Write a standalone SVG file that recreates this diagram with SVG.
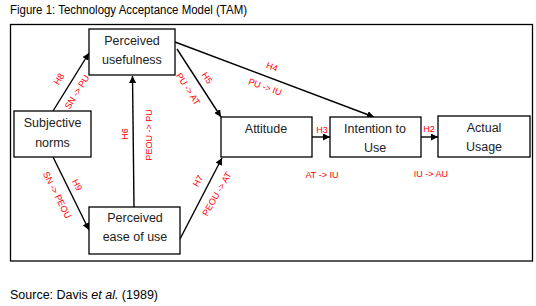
<svg xmlns="http://www.w3.org/2000/svg" width="536" height="306" viewBox="0 0 536 306">
<defs>
<marker id="ah" viewBox="0 0 10 10" refX="10" refY="5" markerWidth="7" markerHeight="7" markerUnits="userSpaceOnUse" orient="auto">
<path d="M0,0 L10,5 L0,10 z" fill="#000"/>
</marker>
</defs>
<style>
.box{fill:#fff;stroke:#000;stroke-width:1.3}
.nt{font-family:"Liberation Sans",Arial,sans-serif;font-size:12.5px;fill:#222;text-anchor:middle}
.cn{stroke:#000;stroke-width:1.4;fill:none;marker-end:url(#ah)}
.lb{font-family:"Liberation Sans",Arial,sans-serif;font-size:9px;fill:#ff0000;text-anchor:middle}
.cap{font-family:"Liberation Sans",Arial,sans-serif;font-size:12.5px;fill:#000}
</style>
<rect width="536" height="306" fill="#fff"/>
<text class="cap" x="10" y="14" textLength="237" lengthAdjust="spacingAndGlyphs">Figure 1: Technology Acceptance Model (TAM)</text>
<rect x="10.5" y="24.5" width="522" height="236.5" fill="none" stroke="#000" stroke-width="1.3"/>
<g id="connectors">
<line class="cn" x1="53" y1="111" x2="89" y2="53"/>
<line class="cn" x1="53" y1="157" x2="89" y2="230"/>
<line class="cn" x1="134" y1="207" x2="132.5" y2="76"/>
<line class="cn" x1="177" y1="49" x2="221" y2="117"/>
<line class="cn" x1="175" y1="42" x2="374" y2="117"/>
<line class="cn" x1="180" y1="239" x2="222" y2="158"/>
<line class="cn" x1="312" y1="137" x2="330" y2="137"/>
<line class="cn" x1="421" y1="137" x2="438" y2="137"/>
</g>
<g id="labels">
<text class="lb" transform="translate(59,79) rotate(-58)" y="3">H8</text>
<text class="lb" transform="translate(77,92) rotate(-58)" y="3">SN -&gt; PU</text>
<text class="lb" transform="translate(207,78) rotate(57)" y="3">H5</text>
<text class="lb" transform="translate(188,89) rotate(57)" y="3">PU -&gt; AT</text>
<text class="lb" transform="translate(272,67) rotate(20)" y="3">H4</text>
<text class="lb" transform="translate(265,87) rotate(20)" y="3">PU -&gt; IU</text>
<text class="lb" transform="translate(125,134) rotate(-90)" y="3">H6</text>
<text class="lb" transform="translate(149,135) rotate(-90)" y="3">PEOU -&gt; PU</text>
<text class="lb" transform="translate(77,185) rotate(63)" y="3">H9</text>
<text class="lb" transform="translate(57,195) rotate(63)" y="3">SN -&gt; PEOU</text>
<text class="lb" transform="translate(198,181) rotate(-60)" y="3">H7</text>
<text class="lb" transform="translate(217,194) rotate(-60)" y="3">PEOU -&gt; AT</text>
<text class="lb" x="322" y="133">H3</text>
<text class="lb" x="429" y="132">H2</text>
<text class="lb" x="322" y="178">AT -&gt; IU</text>
<text class="lb" x="431" y="177">IU -&gt; AU</text>
</g>
<g id="pu">
<rect class="box" x="89" y="29" width="86" height="46"/>
<text class="nt" x="132" y="45">Perceived</text>
<text class="nt" x="132" y="64">usefulness</text>
</g>
<g id="sn">
<rect class="box" x="14" y="111" width="77" height="46"/>
<text class="nt" x="52.5" y="127">Subjective</text>
<text class="nt" x="52.5" y="147">norms</text>
</g>
<g id="peou">
<rect class="box" x="89" y="207" width="91" height="47"/>
<text class="nt" x="135" y="222">Perceived</text>
<text class="nt" x="135" y="241">ease of use</text>
</g>
<g id="at">
<rect class="box" x="221" y="117" width="91" height="40"/>
<text class="nt" x="266" y="133">Attitude</text>
</g>
<g id="iu">
<rect class="box" x="330" y="117" width="91" height="40"/>
<text class="nt" x="375" y="133">Intention to</text>
<text class="nt" x="375" y="152">Use</text>
</g>
<g id="au">
<rect class="box" x="438" y="116" width="92" height="41"/>
<text class="nt" x="484" y="132">Actual</text>
<text class="nt" x="484" y="151">Usage</text>
</g>
<text class="cap" x="10" y="299">Source: Davis <tspan font-style="italic">et al.</tspan> (1989)</text>
</svg>
